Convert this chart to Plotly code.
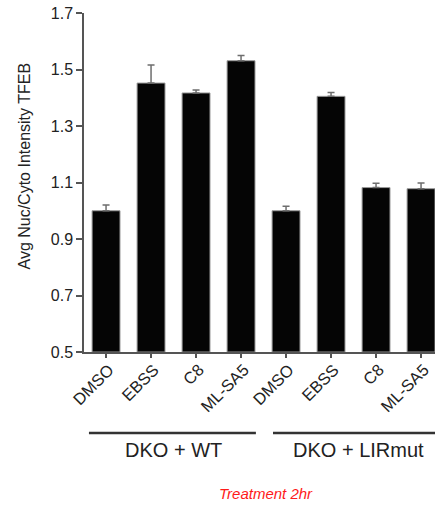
import plotly.graph_objects as go

categories = ["DMSO", "EBSS", "C8", "ML-SA5", "DMSO ", "EBSS ", "C8 ", "ML-SA5 "]
tick_labels = ["DMSO", "EBSS", "C8", "ML-SA5", "DMSO", "EBSS", "C8", "ML-SA5"]
values = [1.00, 1.452, 1.417, 1.531, 1.00, 1.405, 1.082, 1.078]
errors = [0.020, 0.064, 0.010, 0.019, 0.016, 0.014, 0.015, 0.020]
groups = ["DKO + WT", "DKO + LIRmut"]
y_ticks = [0.5, 0.7, 0.9, 1.1, 1.3, 1.5, 1.7]
y_title = "Avg Nuc/Cyto Intensity TFEB"

FONT = "Liberation Sans, Arial, sans-serif"
xs = list(range(len(categories)))

fig = go.Figure()
fig.add_trace(go.Bar(
    x=xs, y=[v - 0.5 for v in values], base=0.5,
    width=0.62,
    marker=dict(color="#050505", line=dict(color="#9a9a9a", width=1)),
    error_y=dict(type="data", symmetric=False, array=errors,
                 arrayminus=[0] * len(errors), color="#6e6e6e",
                 thickness=1.5, width=3.5),
    showlegend=False,
))

fig.update_layout(
    width=435, height=508,
    margin=dict(l=84, r=0, t=13, b=156, autoexpand=False),
    plot_bgcolor="white", paper_bgcolor="white",
    font=dict(family=FONT, color="#222222"),
    xaxis=dict(
        range=[-0.49, 7.31], tickmode="array", tickvals=xs, ticktext=tick_labels,
        tickangle=-45, tickfont=dict(size=16.5, color="#222222"),
        ticklabelstandoff=-4, ticklabelshift=3,
        showline=True, linecolor="#555555", linewidth=1.5,
        ticks="outside", ticklen=4, tickcolor="#555555", tickwidth=1.5,
        showgrid=False, zeroline=False, fixedrange=True, automargin=False,
    ),
    yaxis=dict(
        range=[0.5, 1.7], tickmode="array", tickvals=y_ticks,
        ticktext=[f"{t:.1f}" for t in y_ticks],
        tickfont=dict(size=16, color="#222222"),
        showline=True, linecolor="#555555", linewidth=1.5,
        ticks="outside", ticklen=6, tickcolor="#555555", tickwidth=1.5,
        showgrid=False, zeroline=False, automargin=False, fixedrange=True,
    ),
)

fig.add_annotation(text=y_title, textangle=-90, xref="paper", yref="paper",
                   x=(23.5 - 84) / 351, y=(352 - 166) / 339, showarrow=False,
                   font=dict(size=16, color="#222222"),
                   xanchor="center", yanchor="middle")

# group underline bars and labels
group_spans = [(-0.38, 3.33), (3.71, 7.4)]
for (x0, x1), g in zip(group_spans, groups):
    fig.add_shape(type="line", xref="x", yref="paper", x0=x0, x1=x1,
                  y0=-0.239, y1=-0.239, line=dict(color="#333333", width=2.5))
for xc, g in zip([1.5, 5.6], groups):
    fig.add_annotation(text=g, xref="x", yref="paper", x=xc, y=-0.289,
                       showarrow=False, font=dict(size=20, color="#222222"),
                       xanchor="center", yanchor="middle")

fig.add_annotation(text="<i>Treatment 2hr</i>", xref="paper", yref="paper",
                   x=182 / 351, y=-0.416, showarrow=False,
                   font=dict(size=15, color="#ff1a1a"),
                   xanchor="center", yanchor="middle")

fig.write_html("out.html", config={"displayModeBar": False},
               post_script="document.body.style.margin='0';document.body.style.padding='0';")
